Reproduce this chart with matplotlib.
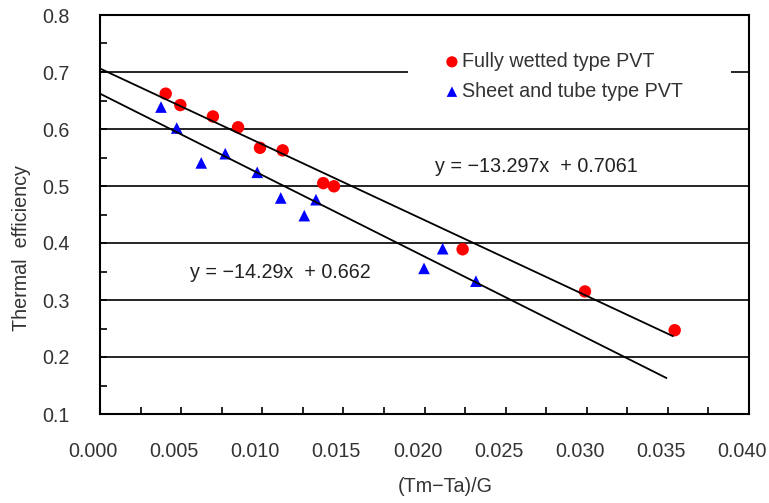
import matplotlib
matplotlib.use("Agg")
import matplotlib.pyplot as plt
import matplotlib.transforms as mtransforms
from matplotlib.patches import Rectangle
import numpy as np

plt.rcParams['font.family'] = ['Liberation Sans', 'DejaVu Sans']

# Fully wetted type PVT
fw_x = [0.00405, 0.00495, 0.00696, 0.00851, 0.00986, 0.01126, 0.01376, 0.01442, 0.02235, 0.02989, 0.03542]
fw_y = [0.662, 0.642, 0.622, 0.603, 0.567, 0.5625, 0.505, 0.4995, 0.389, 0.315, 0.247]
# Sheet and tube type PVT
st_x = [0.00376, 0.00473, 0.00624, 0.00772, 0.00969, 0.01114, 0.01331, 0.01259, 0.02112, 0.01997, 0.02317]
st_y = [0.6385, 0.6017, 0.5405, 0.5567, 0.524, 0.479, 0.476, 0.448, 0.390, 0.3555, 0.333]

# Trend lines (from the equations shown)
fw_slope, fw_int, fw_xend = -13.297, 0.7061, 0.0353
st_slope, st_int, st_xend = -14.29, 0.662, 0.0349

fw_label = "Fully wetted type PVT"
st_label = "Sheet and tube type PVT"
fw_eq = "y = \u221213.297x  + 0.7061"
st_eq = "y = \u221214.29x  + 0.662"
xlabel = "(Tm\u2212Ta)/G"
ylabel = "Thermal  efficiency"

FS = 14.2

fig = plt.figure(figsize=(7.69, 5.03), dpi=100)
ax = fig.add_axes([100/769, (503-414)/503, 649/769, 399/503])

ax.set_xlim(0, 0.04)
ax.set_ylim(0.1, 0.8)

# gridlines
for yv in np.arange(0.2, 0.75, 0.1):
    ax.axhline(yv, color='black', lw=1.2, zorder=1)

# white box behind legend (occludes gridline like the original)
ax.add_patch(Rectangle(((408-100)/649, (414-105)/399), (731-408)/649, 60/399,
                       transform=ax.transAxes, facecolor='white', edgecolor='none', zorder=1.5))

ax.scatter(fw_x, fw_y, s=80, marker='o', color='#ff0000', edgecolors='none', zorder=3, label=fw_label)
ax.scatter(st_x, st_y, s=70, marker='^', color='#0000ff', edgecolors='none', zorder=3, label=st_label)

xx = np.array([0.0, fw_xend])
ax.plot(xx, fw_slope*xx + fw_int, color='black', lw=1.3, zorder=4)
xx = np.array([0.0, st_xend])
ax.plot(xx, st_slope*xx + st_int, color='black', lw=1.3, zorder=4)

ax.text(0.02065, 0.534, fw_eq, fontsize=FS, va='center', ha='left', color='#222222')
ax.text(0.00555, 0.348, st_eq, fontsize=FS, va='center', ha='left', color='#222222')

ax.set_xticks(np.arange(0, 0.0401, 0.005))
ax.set_xticks(np.arange(0, 0.0401, 0.0025), minor=True)
ax.set_yticks(np.arange(0.1, 0.801, 0.1))
ax.set_yticks(np.arange(0.1, 0.801, 0.05), minor=True)
ax.set_xticklabels([f"{v:.3f}" for v in np.arange(0, 0.0401, 0.005)])
ax.set_yticklabels([f"{v:.1f}" for v in np.arange(0.1, 0.801, 0.1)])

ax.tick_params(axis='x', which='both', direction='in', length=5, width=1.2, labelsize=FS, pad=20, top=False, colors='black', labelcolor='#333333')
ax.tick_params(axis='y', which='both', direction='in', length=5, width=1.2, labelsize=FS, pad=22, right=False, labelcolor='#333333')

for lab in ax.get_xticklabels():
    lab.set_transform(lab.get_transform() + mtransforms.ScaledTranslation(-0.07, 0, fig.dpi_scale_trans))

for sp in ax.spines.values():
    sp.set_linewidth(1.5)
    sp.set_color('black')

ax.set_xlabel(xlabel, fontsize=FS, color='#333333')
ax.set_ylabel(ylabel, fontsize=FS, color='#333333')
ax.xaxis.set_label_coords((445-100)/649, (414-477)/399)
ax.yaxis.set_label_coords((31-100)/649, (414-248)/399)

leg = ax.legend(loc='upper left', bbox_to_anchor=((446-100)/649, (414-52)/399),
                frameon=False, fontsize=FS, handlelength=0.6, handletextpad=0.2,
                labelspacing=0.55, borderpad=0, borderaxespad=0, markerscale=0.9,
                labelcolor='#333333')

fig.savefig("out.png", dpi=100)
